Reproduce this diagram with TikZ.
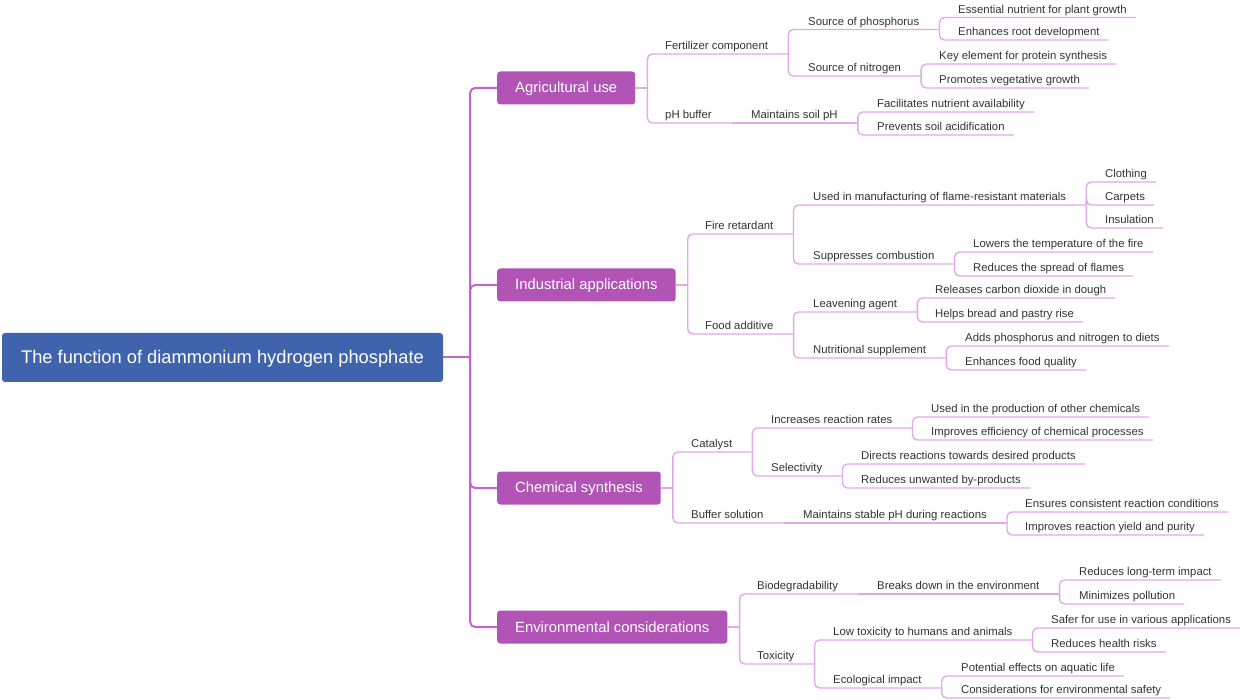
\documentclass[tikz,border=0pt]{standalone}
\usepackage{fontspec}
\setmainfont{Liberation Sans}
\usetikzlibrary{positioning}
\definecolor{rootblue}{RGB}{64,99,174}
\definecolor{mainpurple}{RGB}{177,84,182}
\definecolor{trunkpink}{RGB}{200,98,208}
\definecolor{linkpink}{RGB}{226,168,234}
\definecolor{labelgray}{RGB}{51,51,51}
\tikzset{
  rootbox/.style = {fill=rootblue, rounded corners=3pt, text=white, inner sep=0pt,
                    text height=13pt, text depth=0.5pt,
                    minimum width=441pt, minimum height=49pt, font=\fontsize{18.3}{22}\selectfont},
  mainbox/.style = {anchor=west, fill=mainpurple, rounded corners=3pt, text=white, inner xsep=18pt,
                    inner ysep=0pt, text height=10.5pt, text depth=0.5pt,
                    minimum height=33pt, font=\fontsize{14.8}{17}\selectfont},
  topic/.style   = {anchor=south west, inner xsep=0pt, inner ysep=4pt, text height=8pt, text depth=0pt,
                    text=labelgray, font=\fontsize{11.35}{13}\selectfont},
  trunk/.style   = {draw=trunkpink, line width=2pt, rounded corners=5pt},
  link/.style    = {draw=linkpink, line width=1.4pt, rounded corners=5pt}
}

\begin{document}
\begin{tikzpicture}[x=1pt,y=-1pt]
\useasboundingbox (0,0) rectangle (1240,700);

\node[rootbox] (dahp) at (222.5,357.5) {The function of diammonium hydrogen phosphate};
\node[mainbox] (agri)  at (497,88)  {Agricultural use};
\node[mainbox] (indus) at (497,285) {Industrial applications};
\node[mainbox] (chem)  at (497,488) {Chemical synthesis};
\node[mainbox] (envir) at (497,627) {Environmental considerations};

% agricultural use
\node[topic] (fert)   at (665,54)   {Fertilizer component};
\node[topic] (srcp)   at (808,29.5) {Source of phosphorus};
\node[topic] (ess)    at (958,17.5) {Essential nutrient for plant growth};
\node[topic] (rootd)  at (958,40)   {Enhances root development};
\node[topic] (srcn)   at (808,76)   {Source of nitrogen};
\node[topic] (prot)   at (939,64)   {Key element for protein synthesis};
\node[topic] (veg)    at (939,88)   {Promotes vegetative growth};
\node[topic] (phbuf)  at (665,123)  {pH buffer};
\node[topic] (soilph) at (751,123)  {Maintains soil pH};
\node[topic] (avail)  at (877,112)  {Facilitates nutrient availability};
\node[topic] (acid)   at (877,135)  {Prevents soil acidification};

% industrial applications
\node[topic] (fire)   at (705,234) {Fire retardant};
\node[topic] (manuf)  at (813,205) {Used in manufacturing of flame-resistant materials};
\node[topic] (cloth)  at (1105,182) {Clothing};
\node[topic] (carpet) at (1105,205) {Carpets};
\node[topic] (insul)  at (1105,228) {Insulation};
\node[topic] (supp)   at (813,264) {Suppresses combustion};
\node[topic] (temp)   at (973,252) {Lowers the temperature of the fire};
\node[topic] (spread) at (973,276) {Reduces the spread of flames};
\node[topic] (food)   at (705,334) {Food additive};
\node[topic] (leav)   at (813,312) {Leavening agent};
\node[topic] (co2)    at (935,298) {Releases carbon dioxide in dough};
\node[topic] (bread)  at (935,322) {Helps bread and pastry rise};
\node[topic] (nutr)   at (813,358) {Nutritional supplement};
\node[topic] (diets)  at (965,346) {Adds phosphorus and nitrogen to diets};
\node[topic] (qual)   at (965,370) {Enhances food quality};

% chemical synthesis
\node[topic] (cata)   at (691,452) {Catalyst};
\node[topic] (rates)  at (771,428) {Increases reaction rates};
\node[topic] (other)  at (931,417) {Used in the production of other chemicals};
\node[topic] (effic)  at (931,440) {Improves efficiency of chemical processes};
\node[topic] (select) at (771,476) {Selectivity};
\node[topic] (direct) at (861,464) {Directs reactions towards desired products};
\node[topic] (byprod) at (861,488) {Reduces unwanted by-products};
\node[topic] (bufsol) at (691,523) {Buffer solution};
\node[topic] (stable) at (803,523) {Maintains stable pH during reactions};
\node[topic] (cond)   at (1025,512) {Ensures consistent reaction conditions};
\node[topic] (yield)  at (1025,535) {Improves reaction yield and purity};

% environmental considerations
\node[topic] (biodeg) at (757,594)  {Biodegradability};
\node[topic] (breaks) at (877,594)  {Breaks down in the environment};
\node[topic] (longt)  at (1079,580) {Reduces long-term impact};
\node[topic] (pollut) at (1079,604) {Minimizes pollution};
\node[topic] (toxic)  at (757,664)  {Toxicity};
\node[topic] (lowtox) at (833,640)  {Low toxicity to humans and animals};
\node[topic] (safer)  at (1051,628) {Safer for use in various applications};
\node[topic] (health) at (1051,652) {Reduces health risks};
\node[topic] (ecol)   at (833,688)  {Ecological impact};
\node[topic] (aqua)   at (961,676)  {Potential effects on aquatic life};
\node[topic] (safety) at (961,698)  {Considerations for environmental safety};

% trunk
\coordinate (hub) at ([xshift=27pt]dahp.east);
\draw[trunk] (dahp.east) -- (hub);
\foreach \b in {agri,indus,chem,envir}
  \draw[trunk] (hub) |- (\b.west);

% from the main boxes
\foreach \b/\kids in {agri/{fert,phbuf}, indus/{fire,food}, chem/{cata,bufsol}, envir/{biodeg,toxic}} {
  \coordinate (\b-j) at ([xshift=12pt]\b.east);
  \draw[link] (\b.east) -- (\b-j);
  \foreach \c in \kids
    \draw[link] (\b-j) |- ([xshift=20pt]\c.south east);
}

% inner topics
\foreach \p/\c in {fert/srcp, fert/srcn, fire/manuf, fire/supp, food/leav, food/nutr,
                   cata/rates, cata/select, toxic/lowtox, toxic/ecol}
  \draw[link] ([xshift=20pt]\p.south east) |- ([xshift=20pt]\c.south east);
% only child, on the same line
\foreach \p/\c in {phbuf/soilph, bufsol/stable, biodeg/breaks}
  \draw[link] ([xshift=20pt]\p.south east) -- ([xshift=20pt]\c.south east);

% leaves
\foreach \p/\c in {srcp/ess, srcp/rootd, srcn/prot, srcn/veg, soilph/avail, soilph/acid,
                   manuf/cloth, manuf/carpet, manuf/insul, supp/temp, supp/spread,
                   leav/co2, leav/bread, nutr/diets, nutr/qual,
                   rates/other, rates/effic, select/direct, select/byprod, stable/cond, stable/yield,
                   breaks/longt, breaks/pollut, lowtox/safer, lowtox/health, ecol/aqua, ecol/safety}
  \draw[link] ([xshift=20pt]\p.south east) |- ([xshift=9pt]\c.south east);

\end{tikzpicture}
\end{document}
